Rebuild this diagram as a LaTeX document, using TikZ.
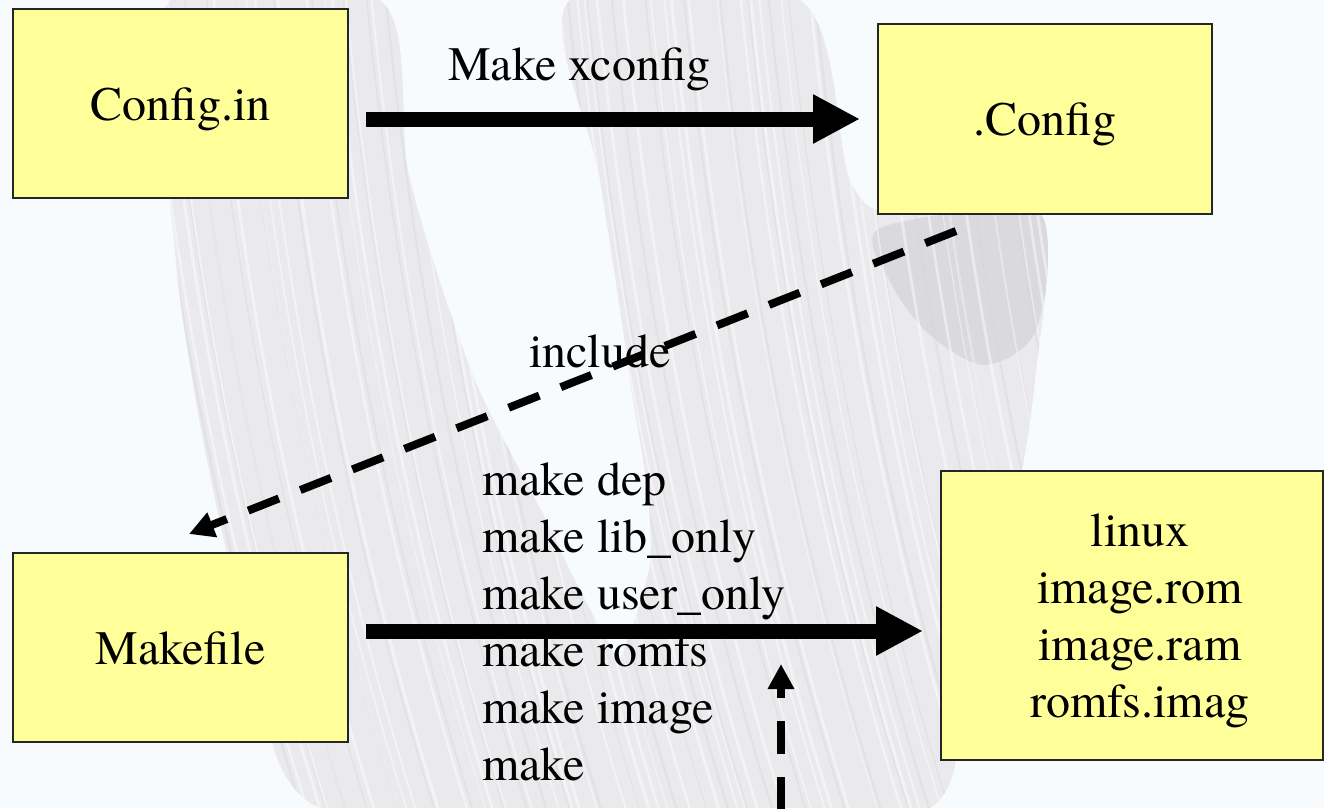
\documentclass[tikz,border=0pt]{standalone}
\usepackage{fontspec}
\setmainfont{TeX Gyre Termes}
\usetikzlibrary{arrows.meta,calc}
\definecolor{boxfill}{RGB}{255,255,153}
\definecolor{pagebg}{RGB}{248,251,253}
\definecolor{barkgray}{RGB}{234,234,237}
\definecolor{knotgray}{RGB}{218,218,222}
\definecolor{streakgray}{RGB}{214,214,219}

\begin{document}
\begin{tikzpicture}[x=1pt,y=-1pt,
  every node/.style={font=\fontsize{48}{57}\selectfont, inner sep=0pt},
  filebox/.style={draw=black!85, line width=2pt, fill=boxfill, text height=33pt, text depth=0pt},
  bigarrow/.style={line width=15pt, -{Triangle[length=47pt,width=46pt]}, shorten <=17pt, shorten >=17pt},
  dasharrow/.style={line width=8pt, dash pattern=on 33pt off 23pt, -{Triangle[length=25pt,width=25pt]}},
  caption/.style={anchor=base west}
]
% page and its faded tree backdrop
\fill[pagebg] (0,0) rectangle (1324,808);
\useasboundingbox (0,0) rectangle (1324,808);
\begin{scope}
  \clip plot[smooth cycle] coordinates {(170,0) (380,0) (410,180) (475,380) (565,560) (660,808) (320,808) (250,640) (205,450) (175,250)}
        plot[smooth cycle] coordinates {(570,0) (800,0) (850,180) (900,215) (1040,212) (1035,380) (1010,520) (960,600) (930,808) (600,808) (650,560) (630,380) (600,180)};
  \fill[barkgray] (0,0) rectangle (1324,808);
  \fill[knotgray] plot[smooth cycle] coordinates {(880,228) (1040,215) (1036,330) (985,365) (930,335) (892,285)};
  \foreach \i in {0,...,50}{
    \pgfmathsetmacro{\xa}{120+18*\i+9*sin(\i*77)}
    \pgfmathsetmacro{\lw}{1+2*abs(sin(\i*131))}
    \draw[white, opacity=0.45, line width=\lw pt] (\xa,0) .. controls (\xa+30,300) and (\xa+80,550) .. (\xa+160,808);
  }
  \foreach \i in {0,...,30}{
    \pgfmathsetmacro{\xa}{130+29*\i+11*cos(\i*53)}
    \pgfmathsetmacro{\lw}{0.8+1.5*abs(cos(\i*97))}
    \draw[streakgray, opacity=0.4, line width=\lw pt] (\xa,0) .. controls (\xa+30,300) and (\xa+80,550) .. (\xa+160,808);
  }
\end{scope}

% file boxes
\node[filebox, minimum width=335pt, minimum height=189pt] (cfgin) at (180.5,103.5) {Config.in};
\node[filebox, minimum width=334pt, minimum height=190pt] (dotcfg) at (1045,119) {.Config};
\node[filebox, minimum width=335pt, minimum height=189pt] (mk) at (180.5,647.5) {Makefile};
\node[filebox, minimum width=382pt, minimum height=289pt] (out) at (1132,615.5) {};
\node[anchor=north, align=center] (outtext) at (1140,514) {linux\\image.rom\\image.ram\\romfs.imag};

% captions
\node[caption] (xcfg) at (448,80) {Make xconfig};
\node[caption] (incl) at (529,367) {include};
\node[anchor=north west, align=left] (cmds) at (482,463) {make dep\\make lib\_only\\make user\_only\\make romfs\\make image\\make};

% connectors
\draw[bigarrow] (cfgin.east |- dotcfg.west) -- (dotcfg.west);
\draw[bigarrow] ([yshift=16.5pt]mk.east) -- ([yshift=16.5pt]mk.east -| out.west);
\draw[dasharrow] ($(dotcfg.south west)+(79,16)$) -- ($(mk.north)+(8.5,-18)$);
\coordinate (vbot) at (781,810);
\coordinate (vtip) at (781,664);
\draw[dasharrow] (vbot) -- (vtip);
\end{tikzpicture}
\end{document}
